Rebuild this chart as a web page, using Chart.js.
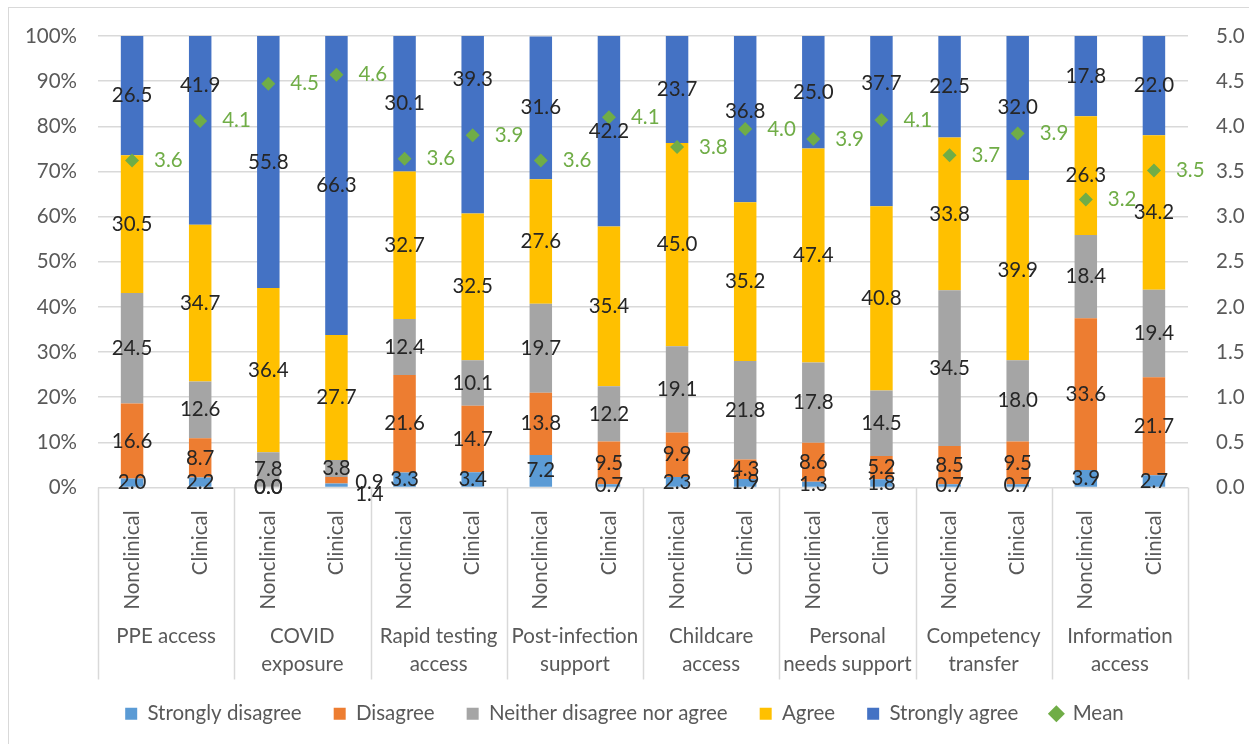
<!DOCTYPE html>
<html>
<head>
<meta charset="utf-8">
<script src="https://cdn.jsdelivr.net/npm/chart.js@4.4.0/dist/chart.umd.min.js"></script>
<style>
  body { margin: 0; background: #fff; }
  #frame { position: absolute; left: 8px; top: 7px; width: 1260px; height: 760px; border: 1px solid #d9d9d9; }
  #wrap { position: absolute; left: 0; top: 0; width: 1249px; height: 744px; }
</style>
</head>
<body>
<div id="frame"></div>
<div id="wrap"><canvas id="mainChart"></canvas></div>
<script>
const subLabels = ["Nonclinical", "Clinical", "Nonclinical", "Clinical", "Nonclinical", "Clinical", "Nonclinical", "Clinical",
  "Nonclinical", "Clinical", "Nonclinical", "Clinical", "Nonclinical", "Clinical", "Nonclinical", "Clinical"];

const groupLabels = [["PPE access"], ["COVID", "exposure"], ["Rapid testing", "access"], ["Post-infection", "support"],
  ["Childcare", "access"], ["Personal", "needs support"], ["Competency", "transfer"], ["Information", "access"]];

const stronglyDisagree = [2.0, 2.2, 0.0, 0.9, 3.3, 3.4, 7.2, 0.7, 2.3, 1.9, 1.3, 1.8, 0.7, 0.7, 3.9, 2.7];
const disagree = [16.6, 8.7, 0.0, 1.4, 21.6, 14.7, 13.8, 9.5, 9.9, 4.3, 8.6, 5.2, 8.5, 9.5, 33.6, 21.7];
const neither = [24.5, 12.6, 7.8, 3.8, 12.4, 10.1, 19.7, 12.2, 19.1, 21.8, 17.8, 14.5, 34.5, 18.0, 18.4, 19.4];
const agree = [30.5, 34.7, 36.4, 27.7, 32.7, 32.5, 27.6, 35.4, 45.0, 35.2, 47.4, 40.8, 33.8, 39.9, 26.3, 34.2];
const stronglyAgree = [26.5, 41.9, 55.8, 66.3, 30.1, 39.3, 31.6, 42.2, 23.7, 36.8, 25.0, 37.7, 22.5, 32.0, 17.8, 22.0];
const meanScore = [3.62, 4.06, 4.47, 4.57, 3.64, 3.9, 3.62, 4.1, 3.77, 3.97, 3.86, 4.07, 3.68, 3.92, 3.19, 3.51];

const FONT = "Lato";
const FS = 20.5;

// labels moved by hand in the original (tiny segments, clashes with the mean marker)
const labelShift = {
  "0-3": [33, -3], "1-3": [33, 14],
  "4-1": [0, -45], "4-5": [0, -45], "4-9": [0, -8], "4-11": [0, -38]
};

const barLabels = {
  id: "barLabels",
  afterDatasetsDraw(chart) {
    const ctx = chart.ctx;
    ctx.save();
    ctx.font = `${FS}px ${FONT}`;
    ctx.textBaseline = "middle";
    chart.data.datasets.forEach((ds, di) => {
      const meta = chart.getDatasetMeta(di);
      meta.data.forEach((el, i) => {
        if (ds.type === "line") {
          ctx.fillStyle = "#70ad47";
          ctx.textAlign = "left";
          ctx.fillText(ds.data[i].toFixed(1), el.x + 22, el.y);
        } else {
          const sh = labelShift[di + "-" + i] || [0, 0];
          ctx.fillStyle = "#262626";
          ctx.textAlign = "center";
          ctx.fillText(ds.data[i].toFixed(1), el.x + sh[0], (el.y + el.base) / 2 + sh[1]);
        }
      });
    });
    ctx.restore();
  }
};

const groupAxis = {
  id: "groupAxis",
  afterDraw(chart) {
    const ctx = chart.ctx;
    const area = chart.chartArea;
    const gw = (area.right - area.left) / groupLabels.length;
    ctx.save();
    ctx.strokeStyle = "#d9d9d9";
    ctx.lineWidth = 1.5;
    for (let k = 0; k <= groupLabels.length; k++) {
      const x = Math.round(area.left + k * gw) + 0.5;
      ctx.beginPath();
      ctx.moveTo(x, area.bottom);
      ctx.lineTo(x, area.bottom + 192);
      ctx.stroke();
    }
    ctx.font = `${FS}px ${FONT}`;
    ctx.fillStyle = "#595959";
    ctx.textAlign = "center";
    ctx.textBaseline = "middle";
    groupLabels.forEach((lines, k) => {
      const cx = area.left + (k + 0.5) * gw;
      lines.forEach((t, j) => ctx.fillText(t, cx, area.bottom + 149 + j * 28));
    });
    ctx.restore();
  }
};

const mk = (label, data, color) => ({
  label, data, backgroundColor: color, stack: "s", yAxisID: "y",
  barPercentage: 0.33, categoryPercentage: 1, pointStyle: "rect", order: 1
});

new Chart(document.getElementById("mainChart"), {
  type: "bar",
  data: {
    labels: subLabels,
    datasets: [
      mk("Strongly disagree", stronglyDisagree, "#5b9bd5"),
      mk("Disagree", disagree, "#ed7d31"),
      mk("Neither disagree nor agree", neither, "#a5a5a5"),
      mk("Agree", agree, "#ffc000"),
      mk("Strongly agree", stronglyAgree, "#4472c4"),
      {
        type: "line", label: "Mean", data: meanScore, yAxisID: "y2", showLine: false,
        pointStyle: "rectRot", pointRadius: 7, pointHoverRadius: 7,
        backgroundColor: "#70ad47", borderColor: "#70ad47", borderWidth: 0, order: 0
      }
    ]
  },
  options: {
    responsive: true,
    maintainAspectRatio: false,
    animation: false,
    layout: { padding: { top: 36, bottom: 10, left: 0, right: 0 } },
    plugins: {
      tooltip: { enabled: false },
      legend: {
        position: "bottom",
        labels: {
          usePointStyle: true, boxWidth: 12, boxHeight: 12, padding: 32,
          color: "#595959", font: { family: FONT, size: FS },
          sort: (a, b) => a.datasetIndex - b.datasetIndex
        }
      }
    },
    scales: {
      x: {
        stacked: true,
        grid: { display: false },
        border: { display: false },
        ticks: { color: "#595959", font: { family: FONT, size: FS }, minRotation: 90, maxRotation: 90, padding: 15, autoSkip: false },
        afterFit(s) { s.height = 184; }
      },
      y: {
        stacked: true, min: 0, max: 100,
        grid: { color: "#d9d9d9", lineWidth: 1.5, drawTicks: false },
        border: { display: false },
        ticks: { stepSize: 10, padding: 21, color: "#595959", font: { family: FONT, size: FS }, callback: v => v + "%" },
        afterFit(s) { s.width = 98; }
      },
      y2: {
        position: "right", min: 0, max: 5,
        grid: { display: false, drawOnChartArea: false },
        border: { display: false },
        ticks: { stepSize: 0.5, padding: 20, color: "#595959", font: { family: FONT, size: FS }, callback: v => v.toFixed(1) },
        afterFit(s) { s.width = 61; }
      }
    }
  },
  plugins: [barLabels, groupAxis]
});
</script>
</body>
</html>
